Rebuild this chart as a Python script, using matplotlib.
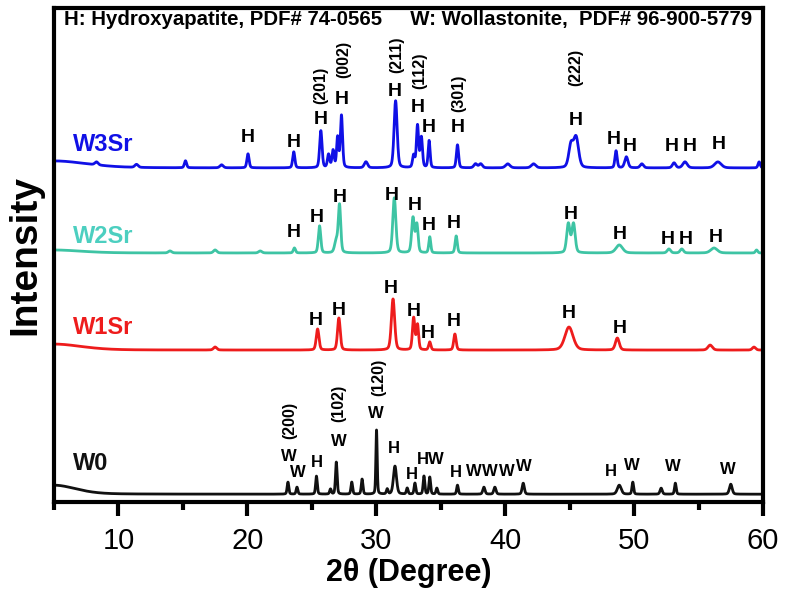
import numpy as np
import matplotlib
matplotlib.use("Agg")
import matplotlib.pyplot as plt
from matplotlib.ticker import MultipleLocator
from matplotlib import font_manager

# ---------------- data ----------------
# peaks: (2theta, height, fwhm); heights in plot units
w0_peaks = [(5.0, 9, 4.0), (23.15, 12, 0.15), (23.85, 7, 0.15), (25.36, 18, 0.15),
            (26.45, 5, 0.15), (26.9, 32, 0.15), (28.1, 12, 0.15), (28.9, 15, 0.15),
            (30.02, 64, 0.12), (30.85, 5, 0.15), (31.45, 28, 0.28), (32.4, 6, 0.15),
            (33.0, 11, 0.15), (33.7, 18, 0.15), (34.15, 17, 0.15), (34.7, 6, 0.15),
            (36.3, 9, 0.15), (38.35, 7, 0.2), (39.2, 7, 0.2), (41.4, 11, 0.2),
            (48.85, 9, 0.35), (49.9, 12, 0.15), (52.1, 6, 0.2), (53.2, 11, 0.15),
            (57.5, 10, 0.25)]
w1_peaks = [(5.0, 6, 5.0), (17.5, 3, 0.3), (25.45, 21, 0.25), (27.1, 32, 0.25),
            (31.3, 51, 0.3), (32.9, 32, 0.22), (33.2, 25, 0.2), (34.15, 8, 0.2),
            (36.1, 16, 0.22), (44.95, 23, 0.75), (48.7, 12, 0.35), (55.9, 5, 0.4),
            (59.3, 3, 0.3)]
w2_peaks = [(5.0, 3, 5.0), (14.0, 2, 0.3), (17.5, 3, 0.3), (21.0, 2, 0.3),
            (23.65, 5, 0.2), (25.6, 27, 0.22), (26.9, 12, 0.3), (27.15, 47, 0.22),
            (31.4, 55, 0.28), (32.85, 35, 0.25), (33.15, 28, 0.22), (34.15, 16, 0.18),
            (36.2, 17, 0.2), (44.9, 29, 0.3), (45.3, 29, 0.3), (48.85, 8, 0.6),
            (52.7, 4, 0.3), (53.7, 4, 0.3), (56.2, 5, 0.6), (59.5, 3, 0.2)]
w3_peaks = [(5.0, 7, 6.0), (8.3, 3, 0.3), (11.4, 3, 0.3), (15.2, 7, 0.2), (18.0, 3, 0.3),
            (20.05, 14, 0.2), (23.6, 16, 0.2), (25.7, 37, 0.22), (26.3, 13, 0.2),
            (26.65, 17, 0.2), (27.0, 30, 0.18), (27.3, 52, 0.2), (29.2, 6, 0.3),
            (31.5, 67, 0.28), (32.9, 12, 0.2), (33.2, 42, 0.2), (33.5, 30, 0.2),
            (34.1, 27, 0.18), (36.3, 23, 0.2), (37.7, 4, 0.3), (38.1, 4, 0.3),
            (40.2, 4, 0.4), (42.2, 4, 0.4), (45.1, 22, 0.4), (45.5, 30, 0.45),
            (48.6, 17, 0.2), (49.4, 11, 0.3), (50.6, 4, 0.3), (53.1, 5, 0.3),
            (53.95, 6, 0.4), (56.5, 6, 0.6), (59.7, 6, 0.2)]

baselines = {"W0": 8, "W1Sr": 152, "W2Sr": 249, "W3Sr": 334}
series_names = ["W0", "W1Sr", "W2Sr", "W3Sr"]
series_peaks = [w0_peaks, w1_peaks, w2_peaks, w3_peaks]
series_colors = ["#111111", "#EE1C1C", "#3EC4A4", "#1010E6"]
label_colors = ["#111111", "#EE1C1C", "#4CCFC0", "#1010E6"]

x_ticks = [10, 20, 30, 40, 50, 60]

# annotations: (text, 2theta, y)
ann_w3 = [("H", 20.05, 364), ("H", 23.6, 359), ("H", 25.7, 382), ("H", 27.3, 402),
          ("H", 31.4, 410), ("H", 33.2, 394), ("H", 34.1, 374), ("H", 36.3, 374),
          ("H", 45.5, 381), ("H", 48.4, 362), ("H", 49.65, 355), ("H", 52.9, 355),
          ("H", 54.3, 355), ("H", 56.6, 357)]
hkl_w3 = [("(201)", 25.7, 416), ("(002)", 27.5, 442), ("(211)", 31.6, 447),
          ("(112)", 33.4, 431), ("(301)", 36.4, 409), ("(222)", 45.5, 434)]
ann_w2 = [("H", 23.6, 269), ("H", 25.4, 284), ("H", 27.2, 304), ("H", 31.2, 306),
          ("H", 33.0, 296), ("H", 34.1, 276), ("H", 36.0, 278), ("H", 45.1, 287),
          ("H", 48.9, 267), ("H", 52.6, 262), ("H", 54.0, 262), ("H", 56.3, 264)]
ann_w1 = [("H", 25.3, 182), ("H", 27.1, 192), ("H", 31.1, 214), ("H", 32.9, 191),
          ("H", 34.0, 169), ("H", 36.0, 181), ("H", 44.9, 189), ("H", 48.9, 174)]
ann_w0 = [("W", 23.2, 46), ("W", 23.9, 30), ("H", 25.4, 40), ("W", 27.1, 61),
          ("W", 30.0, 89), ("H", 31.4, 54), ("H", 32.75, 28), ("H", 33.65, 43),
          ("W", 34.65, 43), ("H", 36.2, 30), ("W", 37.6, 31), ("W", 38.85, 31),
          ("W", 40.1, 31), ("W", 41.45, 36), ("H", 48.2, 31), ("W", 49.8, 37),
          ("W", 53.0, 36), ("W", 57.3, 33)]
hkl_w0 = [("(200)", 23.3, 82), ("(102)", 27.1, 99), ("(120)", 30.2, 125)]

# --------------- fonts ---------------
avail = {f.name for f in font_manager.fontManager.ttflist}
narrow = "Liberation Sans Narrow" if "Liberation Sans Narrow" in avail else "Liberation Sans"
bold_font = "Liberation Sans" if "Liberation Sans" in avail else "DejaVu Sans"
plt.rcParams["font.family"] = [bold_font, "DejaVu Sans"]

# --------------- figure ---------------
fig = plt.figure(figsize=(7.87, 6.0), dpi=100)
ax = fig.add_axes([0.0686, 0.163, 0.9009, 0.824])

x = np.arange(5.0, 60.0001, 0.01)
for name, peaks, col in zip(series_names, series_peaks, series_colors):
    y = np.full_like(x, baselines[name], dtype=float)
    for pos, h, w in peaks:
        s = w / 2.3548
        g = np.exp(-0.5 * ((x - pos) / s) ** 2)
        lor = 1.0 / (1.0 + ((x - pos) / (w / 2.0)) ** 2)
        y += h * (0.7 * g + 0.3 * lor)
    ax.plot(x, y, color=col, lw=2.0)

ax.set_xlim(5, 60)
ax.set_ylim(0, 494)
ax.set_xticks(x_ticks)
ax.xaxis.set_minor_locator(MultipleLocator(5))
ax.set_yticks([])
for sp in ax.spines.values():
    sp.set_linewidth(3.0)
ax.tick_params(axis="x", which="major", direction="out", length=10, width=3,
               labelsize=21, pad=8)
ax.tick_params(axis="x", which="minor", direction="out", length=6, width=3)
for lab in ax.get_xticklabels():
    lab.set_fontfamily(narrow)

ax.set_xlabel("2\u03b8 (Degree)", fontsize=22, fontweight="bold", labelpad=2)
ax.set_ylabel("Intensity", fontsize=28, fontweight="bold", labelpad=8)

# series labels
lab_pos = [(6.5, 39), (6.5, 175), (6.5, 265), (6.5, 357)]
for name, c, (lx, ly) in zip(series_names, label_colors, lab_pos):
    ax.text(lx, ly, name, color=c, fontsize=17, fontweight="bold",
            ha="left", va="center")

ax.text(5.8, 482, "H: Hydroxyapatite, PDF# 74-0565     W: Wollastonite,  PDF# 96-900-5779",
        fontsize=14.7, fontweight="bold", family=narrow, ha="left", va="center")

for group in (ann_w3, ann_w2, ann_w1):
    for t, px, py in group:
        ax.text(px, py, t, fontsize=14, fontweight="bold", ha="center",
                va="center", color="black")
for t, px, py in ann_w0:
    ax.text(px, py, t, fontsize=12, fontweight="bold", ha="center",
            va="center", color="black")
for group in (hkl_w3, hkl_w0):
    for t, px, py in group:
        ax.text(px, py, t, fontsize=11.5, fontweight="bold", ha="center",
                va="center", rotation=90, color="black")

fig.savefig("out.png", dpi=100)
